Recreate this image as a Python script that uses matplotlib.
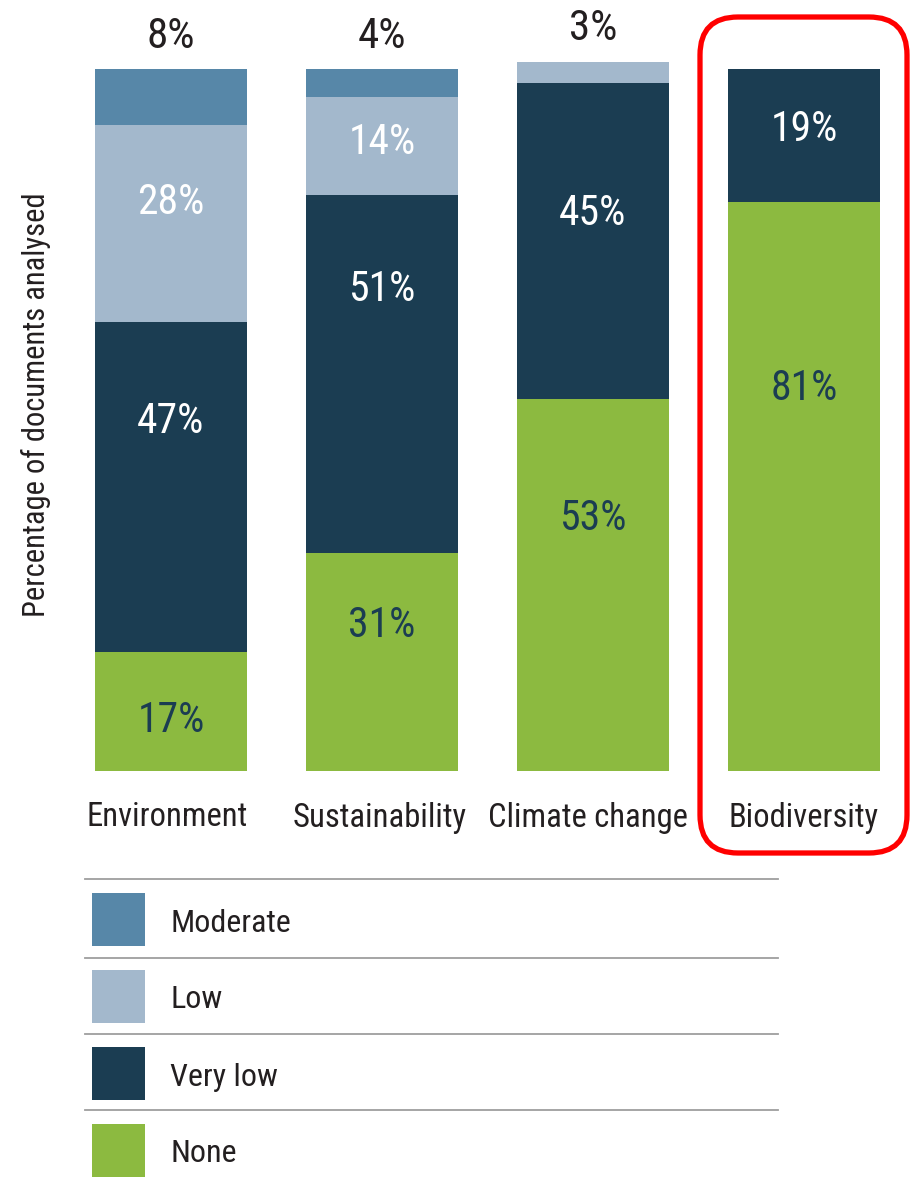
import matplotlib
matplotlib.use("Agg")
import matplotlib.pyplot as plt
from matplotlib import font_manager
from matplotlib.patches import FancyBboxPatch, Rectangle
from matplotlib.lines import Line2D
from matplotlib.transforms import blended_transform_factory

# ---------------- data ----------------
categories = ["Environment", "Sustainability", "Climate change", "Biodiversity"]
series_names = ["None", "Very low", "Low", "Moderate"]
none_pct = [17, 31, 53, 81]
very_low_pct = [47, 51, 45, 19]
low_pct = [28, 14, 3, 0]
moderate_pct = [8, 4, 0, 0]
legend_order = ["Moderate", "Low", "Very low", "None"]
y_label = "Percentage of documents analysed"

# ---------------- style ----------------
colors = {"None": "#8CBA40", "Very low": "#1B3D52", "Low": "#A3B8CC", "Moderate": "#5787A8"}
text_on = {"None": "#1B3D52", "Very low": "white", "Low": "white", "Moderate": "white"}
# where inside each segment the label sits (fraction of segment height from its top)
label_frac = {
    "None": [0.54, 0.31, 0.31, 0.32],
    "Very low": [0.29, 0.25, 0.40, 0.42],
    "Low": [0.37, 0.42, 0.5, 0.5],
    "Moderate": [0.5, 0.5, 0.5, 0.5],
}

available = {f.name for f in font_manager.fontManager.ttflist}
family = None
for cand in ["Liberation Sans Narrow", "Roboto Condensed", "Open Sans Condensed", "Liberation Sans", "Roboto"]:
    if cand in available:
        family = cand
        break
narrow = family in ("Liberation Sans Narrow", "Roboto Condensed", "Open Sans Condensed")
scale = 1.0 if narrow else 0.82
plt.rcParams["font.family"] = [family, "DejaVu Sans"]

W, H = 913, 1188
fig = plt.figure(figsize=(W / 100, H / 100), dpi=100)


def fx(x):
    return x / W


def fy(y):
    return 1 - y / H


# axes: y=0 at pixel 771, y=100 at pixel 69; bar centres at 171 + 211*i
ax = fig.add_axes([0, fy(771), 1, (771 - 69) / H])
ax.set_xlim(-171 / 211, (W - 171) / 211)
ax.set_ylim(0, 100)
ax.axis("off")

values = {"None": none_pct, "Very low": very_low_pct, "Low": low_pct, "Moderate": moderate_pct}
x = list(range(len(categories)))
bottom = [0] * len(categories)
bar_w = 152 / 211
tops = {}
for name in series_names:
    vals = values[name]
    ax.bar(x, vals, bottom=bottom, width=bar_w, color=colors[name], linewidth=0, clip_on=False)
    for i, v in enumerate(vals):
        if v >= 10:
            yc = bottom[i] + v * (1 - label_frac[name][i])
            ax.text(i, yc, f"{v}%", ha="center", va="center_baseline",
                    color=text_on[name], fontsize=30 * scale)
        if v > 0:
            tops[i] = (bottom[i] + v, v)
    bottom = [b + v for b, v in zip(bottom, vals)]

# small top segments labelled above the bar
for i, (top, v) in tops.items():
    if v < 10:
        ax.annotate(f"{v}%", xy=(i, top), xytext=(0, 27), textcoords="offset points",
                    ha="center", va="center_baseline", fontsize=31 * scale, color="#231F20",
                    annotation_clip=False)

# category labels
cat_x = [167, 380, 588, 804]
tr = blended_transform_factory(ax.transData, fig.transFigure)
for i, c in enumerate(categories):
    fig.text(fx(cat_x[i]), fy(814), c, ha="center", va="center_baseline",
             fontsize=23.5 * scale, color="#231F20")

# y label
fig.text(fx(36), fy(405), y_label, rotation=90, ha="center", va="center",
         fontsize=22 * scale, color="#231F20")

# highlight box around Biodiversity
box = FancyBboxPatch((700 / 100, (H - 853) / 100), 207 / 100, (853 - 17) / 100,
                     boxstyle="round,pad=0,rounding_size=0.38",
                     transform=fig.dpi_scale_trans, fill=False,
                     edgecolor="#FF0000", linewidth=3.8)
fig.add_artist(box)

# legend
line_y = [879, 958, 1034, 1110]
for ly in line_y:
    fig.add_artist(Line2D([fx(85), fx(778)], [fy(ly), fy(ly)], color="#9E9E9E", linewidth=1.3))
patch_top = [893, 970, 1047, 1124]
for name, pt in zip(legend_order, patch_top):
    fig.add_artist(Rectangle((fx(92), fy(pt + 53)), 53 / W, 53 / H,
                             transform=fig.transFigure, facecolor=colors[name], linewidth=0))
    fig.text(fx(170), fy(pt + 27), name, ha="left", va="center_baseline",
             fontsize=23 * scale, color="#231F20")

fig.savefig("out.png", dpi=100)
